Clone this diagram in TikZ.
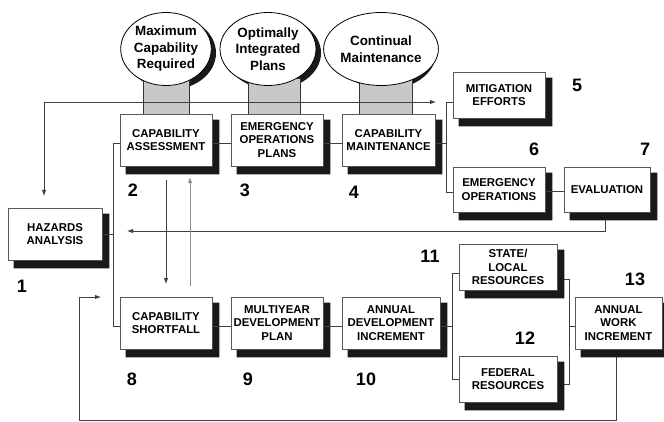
\documentclass[tikz,border=0pt]{standalone}
\usepackage{fontspec}
\setmainfont{Liberation Sans}
\usetikzlibrary{shapes.geometric,arrows.meta}
\definecolor{shadowcol}{RGB}{25,25,25}
\definecolor{pedcol}{RGB}{200,200,200}
\newcommand{\boxshadow}[1]{%
  \fill[shadowcol] ([xshift=0.4pt,yshift=-6pt]#1.north east) -- ([xshift=7pt,yshift=-6pt]#1.north east)
    -- ([xshift=7pt,yshift=-8pt]#1.south east) -- ([xshift=6pt,yshift=-8pt]#1.south west)
    -- ([xshift=6pt,yshift=-0.4pt]#1.south west) -- ([xshift=0.4pt,yshift=-0.4pt]#1.south east) -- cycle;}
\begin{document}
\begin{tikzpicture}[x=1pt,y=-1pt,
  box/.style={draw=black!65, line width=0.8pt, fill=white, align=center, inner sep=0pt,
    font=\bfseries\fontsize{11.4}{13.6}\selectfont},
  ell/.style={ellipse, draw=black, line width=0.8pt, fill=white, inner sep=0pt, align=center,
    minimum height=73pt, font=\bfseries\fontsize{13.4}{16.5}\selectfont},
  ped/.style={draw=black!80, line width=0.8pt, fill=pedcol},
  num/.style={font=\bfseries\fontsize{18}{18}\selectfont, inner sep=0pt},
  conn/.style={draw=black!75, line width=0.9pt},
  tip/.style={-{Latex[length=6pt,width=4.5pt]}},
]
\useasboundingbox (0,0) rectangle (664,422);

% ellipse shadows and pedestals
\fill[shadowcol] (171,53) ellipse [x radius=45, y radius=36.5];
\fill[shadowcol] (273,53) ellipse [x radius=48, y radius=36.5];
\fill[shadowcol] (386,53) ellipse [x radius=50, y radius=36.5];
\draw[ped] (143,78) rectangle (189,114);
\draw[ped] (248,78) rectangle (300,114);
\draw[ped] (359,78) rectangle (412,114);

% ellipses
\node[ell, minimum width=90pt] (e1) at (166,49) {Maximum\\Capability\\Required};
\node[ell, minimum width=96pt] (e2) at (268,49) {Optimally\\Integrated\\Plans};
\node[ell, minimum width=100pt] (e3) at (381,49) {Continual\\Maintenance};

% named free ends
\coordinate (haTop) at (44,196);
\coordinate (mitArr) at (436,102);
\coordinate (fbTip) at (127,231);
\coordinate (d1) at (166,180);
\coordinate (d2) at (166,284);
\coordinate (u1) at (190,286);
\coordinate (u2) at (190,177);
\coordinate (bl) at (79,420);
\coordinate (btip) at (101,297);

\draw[conn,{Latex[length=6pt,width=4.5pt]}-{Latex[length=6pt,width=4.5pt]}] (haTop) |- (mitArr);

% boxes
\node[box, minimum width=92pt, minimum height=52pt] (ca) at (166,140) {CAPABILITY\\ASSESSMENT};
\node[box, minimum width=92pt, minimum height=52pt] (eop) at (277,140) {EMERGENCY\\OPERATIONS\\PLANS};
\node[box, minimum width=93pt, minimum height=52pt] (cm) at (388.5,140) {CAPABILITY\\MAINTENANCE};
\node[box, minimum width=92pt, minimum height=46pt] (mit) at (499,95) {MITIGATION\\EFFORTS};
\node[box, minimum width=92pt, minimum height=45pt] (eo) at (499,189.5) {EMERGENCY\\OPERATIONS};
\node[box, minimum width=86pt, minimum height=45pt] (ev) at (607,189.5) {EVALUATION};
\node[box, minimum width=94pt, minimum height=52pt] (ha) at (55,234) {HAZARDS\\ANALYSIS};
\node[box, minimum width=92pt, minimum height=52pt] (cs) at (166,323) {CAPABILITY\\SHORTFALL};
\node[box, minimum width=92pt, minimum height=52pt] (mdp) at (277,323) {MULTIYEAR\\DEVELOPMENT\\PLAN};
\node[box, minimum width=98pt, minimum height=52pt] (adi) at (391,323) {ANNUAL\\DEVELOPMENT\\INCREMENT};
\node[box, minimum width=98pt, minimum height=46pt] (sl) at (508,267) {STATE/\\LOCAL\\RESOURCES};
\node[box, minimum width=98pt, minimum height=46pt] (fr) at (508,379) {FEDERAL\\RESOURCES};
\node[box, minimum width=87pt, minimum height=52pt] (awi) at (618.5,323) {ANNUAL\\WORK\\INCREMENT};

% connector that passes under a shadow
\draw[conn] ([yshift=-12pt]sl.east) -- ++(12,0) |- ([yshift=-5pt]fr.east);

% box shadows, on top as L shapes
\foreach \b in {ca,eop,cm,mit,eo,ev,ha,cs,mdp,adi,sl,fr,awi}{\boxshadow{\b}}

\draw[conn] ([yshift=-3pt]ca.west) -- ++(-6,0) |- ([yshift=-3pt]cs.west);
\draw[conn] (ha.east) -- ++(12,0);
\draw[conn,tip] ([xshift=-2pt,yshift=-8pt]ev.south) |- (fbTip);
\draw[conn,tip] (d1) -- (d2);
\draw[conn,draw=black!45,tip] (u1) -- (u2);
\draw[conn] ([yshift=-3pt]ca.east) -- ([yshift=-3pt]eop.west);
\draw[conn] ([yshift=-3pt]eop.east) -- ([yshift=-3pt]cm.west);
\draw[conn] ([yshift=-3pt]cm.east) -- ++(12,0);
\draw[conn] ([yshift=-7pt]mit.west) -- ++(-6,0) |- ([yshift=-3pt]eo.west);
\draw[conn] ([yshift=-2pt]eo.east) -- ([yshift=-2pt]ev.west);
\draw[conn] ([yshift=-3pt]cs.east) -- ([yshift=-3pt]mdp.west);
\draw[conn] ([yshift=-3pt]mdp.east) -- ([yshift=-3pt]adi.west);
\draw[conn] ([yshift=-3pt]adi.east) -- ++(13,0);
\draw[conn] ([yshift=-6pt]sl.west) -- ++(-6,0) |- (fr.west);
\draw[conn] ([yshift=-3pt]awi.west) -- ++(-6,0);
\draw[conn,tip] ([xshift=-2.5pt,yshift=-8pt]awi.south) |- (bl) |- (btip);

% numbers
\node[num] (n1) at (22,286) {1};
\node[num] (n2) at (133,190) {2};
\node[num] (n3) at (245,190) {3};
\node[num] (n4) at (354,192) {4};
\node[num] (n5) at (577,85) {5};
\node[num] (n6) at (534,149) {6};
\node[num] (n7) at (645,149) {7};
\node[num] (n8) at (132,379) {8};
\node[num] (n9) at (248,379) {9};
\node[num] (n10) at (366,379) {10};
\node[num] (n11) at (430,256) {11};
\node[num] (n12) at (525,338) {12};
\node[num] (n13) at (635,279) {13};
\end{tikzpicture}
\end{document}
